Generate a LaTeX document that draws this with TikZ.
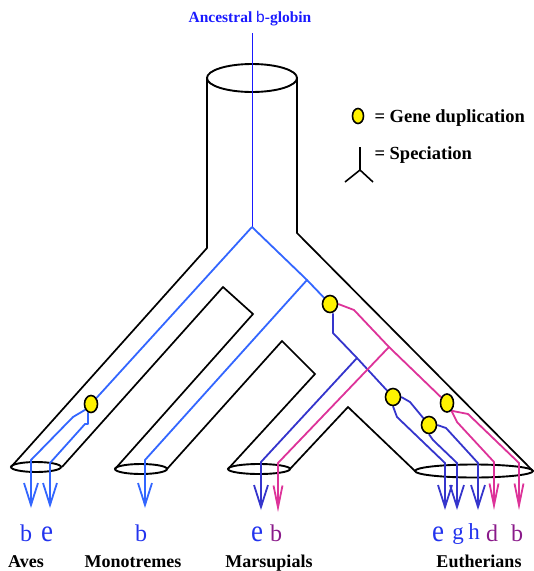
\documentclass[tikz,border=0pt]{standalone}
\usepackage{fontspec}
\setmainfont{Liberation Serif}
\setsansfont{Liberation Sans}
\usetikzlibrary{arrows.meta,shapes.geometric}
\pgfdeclarelayer{background}
\pgfsetlayers{background,main}
\definecolor{lblue}{HTML}{3366FF}
\definecolor{dblue}{HTML}{3535CC}
\definecolor{pinkc}{HTML}{DD3399}
\definecolor{tblue}{HTML}{1A1AFF}
\definecolor{gblue}{HTML}{2233EE}
\definecolor{purp}{HTML}{8A1A8A}
\begin{document}
\begin{tikzpicture}[x=1pt,y=-1pt,
  outline/.style={line width=1.7pt, line join=miter},
  rim/.style={line width=1.9pt},
  lb/.style={draw=lblue, line width=1.8pt, line join=round},
  db/.style={draw=dblue, line width=1.8pt, line join=round},
  pk/.style={draw=pinkc, line width=1.8pt, line join=round},
  barrow/.style={-{Straight Barb[length=22pt,width=14pt]}},
  parrow/.style={-{Straight Barb[length=22pt,width=9pt]}},
  dup/.style={ellipse, draw=black, fill=yellow, line width=1.6pt, inner sep=0pt, minimum width=14pt, minimum height=17pt},
  greek/.style={font=\fontsize{24}{24}\selectfont, anchor=base},
  bige/.style={font=\fontsize{27}{27}\selectfont, anchor=base, yscale=1.15},
  species/.style={font=\fontsize{18}{18}\selectfont\bfseries, anchor=base},
  legend/.style={font=\fontsize{18.5}{18.5}\selectfont\bfseries, anchor=base west},
]
\useasboundingbox (0,0) rectangle (534,571);

% ---- title ----
\node[font=\fontsize{15.5}{15.5}\selectfont\bfseries, text=tblue, anchor=base] (title) at (250,22) {Ancestral {\sffamily\mdseries b}-globin};

% ---- duplication nodes ----
\node[dup, minimum width=13pt] (d1) at (91,404) {};
\node[dup, minimum width=15pt] (d2) at (330,304) {};
\node[dup, minimum width=15pt] (d3) at (393,397) {};
\node[dup, minimum width=15pt] (d4) at (429,425) {};
\node[dup, minimum width=13pt, minimum height=18pt] (d5) at (447,403) {};

\begin{pgfonlayer}{background}
% ---- black tube outline ----
\draw[rim] (252,78) ellipse [x radius=45pt, y radius=14pt];
\draw[outline] (207,78) -- (207,248) -- (11,467);
\draw[outline] (297,78) -- (297,233) -- (533,471);
\draw[outline] (62,467) -- (223,287) -- (253,314) -- (115,469);
\draw[outline] (167,469) -- (282,341) -- (315,374) -- (228,469);
\draw[outline] (290,469) -- (348,407) -- (415,471);
\draw[rim] (36,467) ellipse [x radius=25pt, y radius=5pt];
\draw[rim] (141,469) ellipse [x radius=26pt, y radius=5pt];
\draw[rim] (259,469) ellipse [x radius=31pt, y radius=5pt];
\draw[rim] (474,471) ellipse [x radius=59pt, y radius=6.5pt];

% ---- ancestral line ----
\coordinate (top) at (252,33);
\coordinate (root) at (252,227);
\draw[draw=tblue, line width=1pt] (top) -- (root);

% ---- light blue lineage ----
\coordinate (m) at (307,280);
\coordinate (aA) at (31,508);
\coordinate (aB) at (50,508);
\coordinate (mo) at (145,508);
\draw[lb] (root) -- (d1);
\draw[lb] (root) -- (m) -- (d2);
\draw[lb, barrow] (m) -- (145,460) -- (mo);
\draw[lb, barrow] (d1.225) -- (73,417) -- (31,460) -- (aA);
\draw[lb, barrow] (d1.250) |- (85,424) -- (50,463) -- (aB);

% ---- dark blue lineage ----
\coordinate (j1) at (357,358);
\coordinate (mE) at (261,510);
\coordinate (eE) at (445,510);
\coordinate (eG) at (457,510);
\coordinate (eH) at (478,510);
\draw[db] (d2.south) ++(3,0) -- (333,333) -- (j1) -- (d3);
\draw[db, barrow] (j1) -- (261,462) -- (mE);
\draw[db] (d3.east) -- (410,402) -- (d4);
\draw[db, barrow] (d3.south) -- (397,417) -- (445,463) -- (eE);
\draw[db, barrow] (d4.south) -- (433,440) -- (457,463) -- (eG);
\draw[db, barrow] (d4.east) -- (446,428) -- (478,463) -- (eH);

% ---- pink lineage ----
\coordinate (j2) at (389,347);
\coordinate (mB) at (278,512);
\coordinate (eD) at (494,510);
\coordinate (eB) at (519,510);
\draw[pk] (d2.east) -- (354,310) -- (j2) -- (d5);
\draw[pk, parrow] (j2) -- (278,463) -- (mB);
\draw[pk, parrow] (d5.300) -- (468,414) -- (519,463) -- (eB);
\draw[pk, parrow] (d5.300) -- (457,422) -- (494,462) -- (eD);
\end{pgfonlayer}

% ---- gene labels ----
\node[greek, text=gblue] (gAb) at (26,541) {b};
\node[bige, text=gblue] (gAe) at (47,541) {e};
\node[greek, text=gblue] (gMb) at (141,541) {b};
\node[bige, text=gblue] (gMe) at (257,541) {e};
\node[greek, text=purp] (gMb2) at (276,541) {b};
\node[bige, text=gblue] (gEe) at (438,541) {e};
\node[greek, text=gblue, font=\fontsize{23}{23}\selectfont] (gEg) at (458,539) {g};
\node[greek, text=gblue, font=\fontsize{23}{23}\selectfont] (gEh) at (474,539) {h};
\node[greek, text=purp] (gEd) at (492,541) {d};
\node[greek, text=purp] (gEb) at (517,541) {b};

% ---- species labels ----
\node[species] (aves) at (26,567) {Aves};
\node[species] (mono) at (133,567) {Monotremes};
\node[species] (mars) at (269,567) {Marsupials};
\node[species] (euth) at (479,567) {Eutherians};

% ---- legend ----
\node[dup, minimum width=11pt, minimum height=15pt] (ldup) at (358,116) {};
\node[legend] (ltext1) at (371,122) {= Gene duplication};
\coordinate (sp) at (360,170);
\coordinate (sptop) at (360,147);
\coordinate (spl) at (345,182);
\coordinate (spr) at (373,182);
\draw[line width=1.6pt] (sptop) -- (sp) -- (spl);
\draw[line width=1.6pt] (sp) -- (spr);
\node[legend] (ltext2) at (371,159) {= Speciation};
\end{tikzpicture}
\end{document}
